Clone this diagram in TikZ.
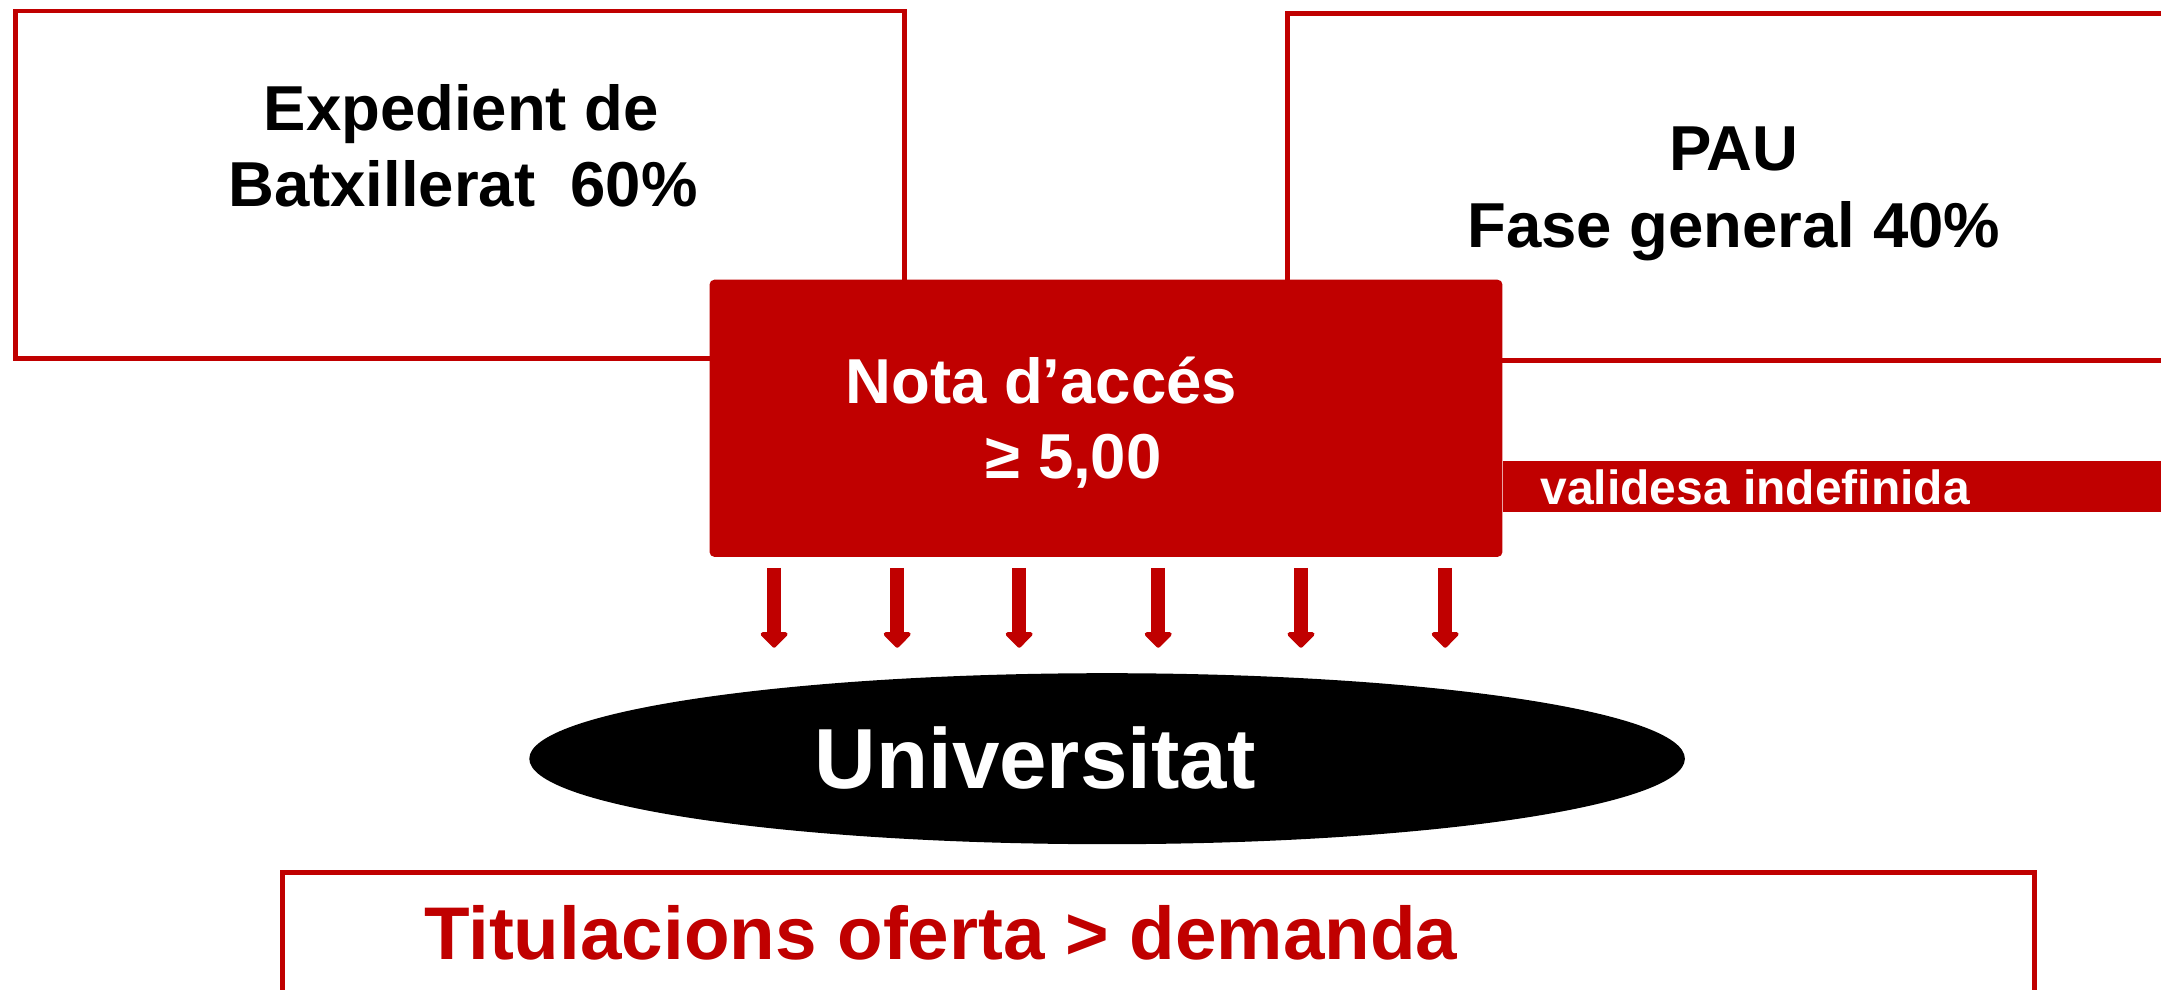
\documentclass[tikz,border=0pt]{standalone}
\usepackage{fontspec}
\setmainfont{Liberation Sans}
\usetikzlibrary{shapes.geometric, arrows.meta}
\definecolor{accred}{HTML}{C00000}

\begin{document}
\begin{tikzpicture}[x=0.01cm, y=-0.01cm,
    box/.style = {draw=accred, line width=1pt},
    txt/.style = {inner sep=0pt, anchor=base, font=\fontsize{13.1}{15.7}\selectfont\bfseries},
    down/.style = {accred, line width=0.105cm,
      -{Triangle[width=0.23cm, length=0.12cm, round]}}]
  \useasboundingbox (0,0) rectangle (1568,718);
  \clip (0,0) rectangle (1568,718);

  % frames behind the red block
  \draw[box] (11.5,8) rectangle (656.5,260);
  \draw[box] (934.5,9.5) rectangle (1640,261.5);
  \draw[box] (205,633) rectangle (1476,780);

  \node[fill=accred, rounded corners=1pt, inner sep=0pt,
        minimum width=5.75cm, minimum height=2.01cm] (nota) at (802.5,303.5) {};
  \fill[accred] (nota.east |- 0,334.5) rectangle (1568,371.3);

  \node[txt] (exp1) at (334.7,94.8) {Expedient de};
  \node[txt] (exp2) at (336,150) {Batxillerat\ \ 60\%};
  \node[txt] (pau1) at (1258,123.9) {PAU};
  \node[txt] (pau2) at (1258,179.7) {Fase general 40\%};
  \node[txt, white] (nota1) at (755.5,292.7) {Nota d’accés};
  \node[txt, white] (nota2) at (779,347.1) {≥ 5,00};
  \node[txt, white, anchor=base west, font=\fontsize{9.9}{12}\selectfont\bfseries]
    (valid) at (1117,365.7) {validesa indefinida};

  % arrows into the university
  \foreach \x [count=\i] in {561.7, 651, 739.5, 840.4, 944, 1048.6} {
    \coordinate (top\i) at (\x,412);
    \coordinate (tip\i) at (\x,470);
    \draw[down] (top\i) -- (tip\i);
  }

  \node[ellipse, fill=black, inner sep=0pt,
        minimum width=8.38cm, minimum height=1.24cm] (uni) at (803.3,550.5) {};
  \node[txt, white, font=\fontsize{17.6}{21}\selectfont\bfseries] (unitxt) at (751,572) {Universitat};

  \node[txt, accred, anchor=base west, font=\fontsize{15.4}{19}\selectfont\bfseries]
    (titol) at (307,696) {Titulacions oferta > demanda};
\end{tikzpicture}
\end{document}
